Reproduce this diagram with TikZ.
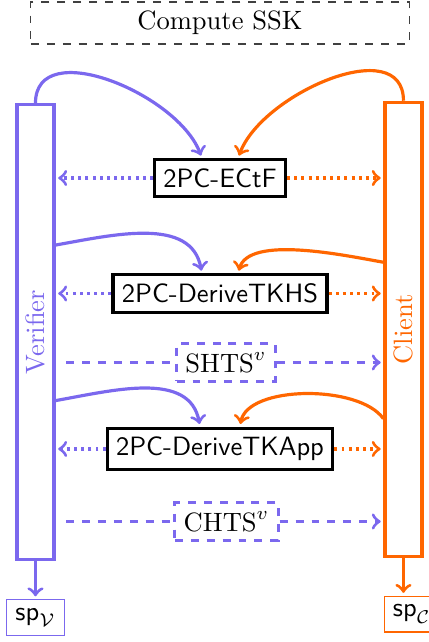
\documentclass[tikz,border=0pt]{standalone}
\usepackage{amssymb}
\usepackage{tikz}
\usetikzlibrary{positioning, calc, shapes}

\definecolor{verif}{RGB}{123,104,238}
\definecolor{clnt}{RGB}{255,102,0}

\begin{document}
\begin{tikzpicture}[>=to, shorten >=1pt, node distance=1.53cm, on grid, very thick,
		party/.style={draw=#1, text=#1, minimum width=0.49cm, minimum height=6.02cm},
		func/.style={draw, font=\sffamily},
		share/.style={draw=verif, dashed, fill=white},
		result/.style={draw=#1, thin},
		dots/.style={dash pattern=on 1.1pt off 1.6pt}]
			\useasboundingbox (-2.915,0) rectangle (2.769,-8.507);
			\node[draw=black!75, dashed, thin, minimum width=5.01cm, minimum height=0.556cm] (ssk) at (0,-0.305) {Compute SSK};
			
			%Partes:
			\node[party=verif]	(verifier) at (-2.445,-4.399) {};
			\node[rotate=90, text=verif] (verifiertxt) at (verifier) {Verifier};
			\node[party=clnt]	(client) at (2.431,-4.366) {};
			\node[rotate=90, text=clnt] (clienttxt) at (client) {Client};
			
			\node[func]	(ectf)	at (0,-2.359)	{2PC-ECtF};
			\node[func]	(tkhs)	[below=of ectf]	{2PC-DeriveTKHS};
			\node[share]	(shts)	[below right=0.914cm and 0.08cm of tkhs]	{$\mathrm{SHTS}^v$};
			\node[func]	(tkapp)	[below=2.06cm of tkhs]	{2PC-DeriveTKApp};
			\node[share]	(chts)	[below right=0.961cm and 0.086cm of tkapp]	{$\mathrm{CHTS}^v$};
			\node[result=verif]	(spv)	[below=3.783cm of verifier]	{$\mathsf{sp}_{\mathcal{V}}$};
			\node[result=clnt]	(spc)	[below right=3.77cm and 0.11cm of client]	{$\mathsf{sp}_{\mathcal{C}}$};
			
			%Entradas:
			\draw[verif, ->] (verifier.north) to[out=90, in=110] ([xshift=-0.24cm]ectf.north);
			\draw[clnt, ->] (client.north) to[out=90, in=70] ([xshift=0.24cm]ectf.north);
			\draw[verif, ->] ($(verifier.north east)!0.31!(verifier.south east)$) to[out=10, in=100] ([xshift=-0.24cm]tkhs.north);
			\draw[clnt, ->] ($(client.north west)!0.353!(client.south west)$) to[out=170, in=75, looseness=0.7] ([xshift=0.24cm]tkhs.north);
			\draw[verif, ->] ($(verifier.north east)!0.65!(verifier.south east)$) to[out=10, in=100] ([xshift=-0.265cm]tkapp.north);
			\draw[clnt, ->] ($(client.north west)!0.695!(client.south west)$) to[out=125, in=80, looseness=0.75] ([xshift=0.265cm]tkapp.north);
			
			%Saidas:
			\draw[verif, ->, dots] (ectf.west) -- (ectf -| verifier.east);
			\draw[clnt, ->, dots] (ectf.east) -- (ectf -| client.west);
			\draw[verif, ->, dots] (tkhs.west) -- (tkhs -| verifier.east);
			\draw[clnt, ->, dots] (tkhs.east) -- (tkhs -| client.west);
			\draw[verif, ->, dots] (tkapp.west) -- (tkapp -| verifier.east);
			\draw[clnt, ->, dots] (tkapp.east) -- (tkapp -| client.west);
			
			\draw[verif, dashed, shorten <=4pt] (shts -| verifier.east) -- (shts.west);
			\draw[verif, dashed, ->] (shts.east) -- (shts -| client.west);
			\draw[verif, dashed, shorten <=4pt] (chts -| verifier.east) -- (chts.west);
			\draw[verif, dashed, ->] (chts.east) -- (chts -| client.west);
			
			\draw[verif, ->] (verifier.south) -- (spv.north);
			\draw[clnt, ->] (client.south) -- (client.south |- spc.north);
		\end{tikzpicture}
\end{document}
